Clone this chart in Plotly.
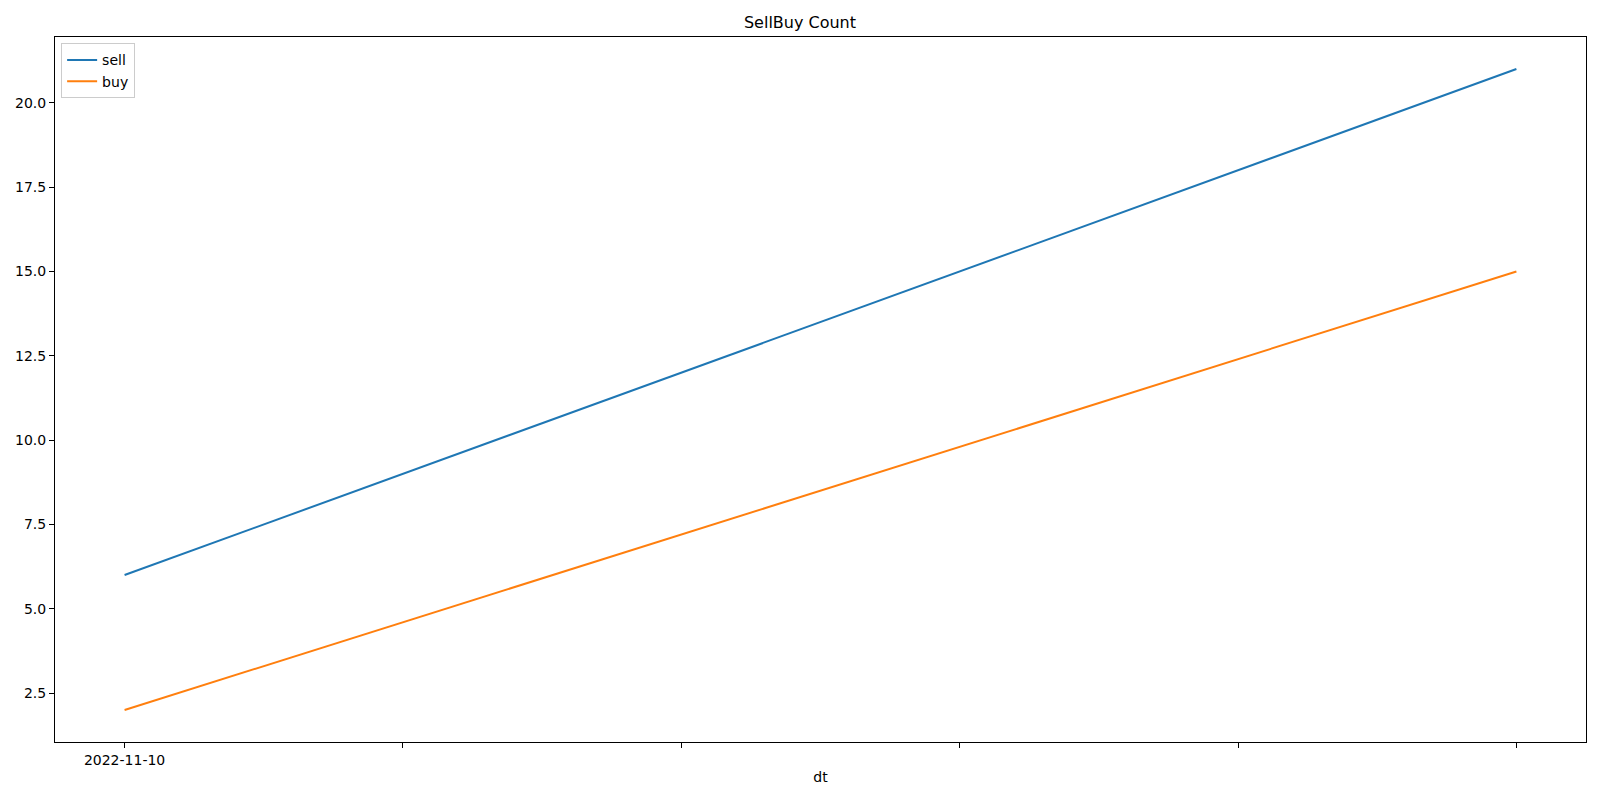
import plotly.graph_objects as go

x_pos = [0, 1]
sell = [6, 21]
buy = [2, 15]
tick_vals = [0, 0.2, 0.4, 0.6, 0.8, 1.0]
tick_text = ["2022-11-10", "", "", "", "", ""]
y_ticks = [2.5, 5.0, 7.5, 10.0, 12.5, 15.0, 17.5, 20.0]

fig = go.Figure()
fig.add_trace(go.Scatter(x=x_pos, y=sell, mode="lines", name="sell",
                         line=dict(color="#1f77b4", width=2)))
fig.add_trace(go.Scatter(x=x_pos, y=buy, mode="lines", name="buy",
                         line=dict(color="#ff7f0e", width=2)))

# page body adds an 8px offset; size the figure so the total fits 1600x800
W, H = 1584, 784
font = dict(family="DejaVu Sans", size=14, color="black")
fig.update_layout(
    width=W, height=H,
    margin=dict(l=47, r=6, t=29, b=50, autoexpand=False),
    paper_bgcolor="white", plot_bgcolor="white",
    font=font,
    title=dict(text="SellBuy Count", x=0.5, xanchor="center", y=1 - 14 / H,
               yanchor="middle", font=dict(family="DejaVu Sans", size=16, color="black")),
    showlegend=True,
    legend=dict(x=0.004, y=0.991, xanchor="left", yanchor="top",
                bgcolor="rgba(255,255,255,0.8)", bordercolor="#cccccc", borderwidth=1,
                font=dict(family="DejaVu Sans", size=14, color="black"),
                tracegroupgap=0, itemwidth=30),
)
fig.update_xaxes(range=[-0.05, 1.05], tickvals=tick_vals, ticktext=tick_text,
                 showgrid=False, zeroline=False, showline=True, mirror=True,
                 linecolor="black", linewidth=1, ticks="outside", ticklen=5,
                 tickcolor="black", tickfont=font, automargin=False,
                 title=dict(text="dt", font=font, standoff=5))
fig.update_yaxes(range=[1.05, 21.95], tickvals=y_ticks,
                 ticktext=[f"{v:.1f}" for v in y_ticks],
                 showgrid=False, zeroline=False, showline=True, mirror=True,
                 linecolor="black", linewidth=1, ticks="outside", ticklen=5,
                 tickcolor="black", tickfont=font, automargin=False)

fig.write_html("out.html")
